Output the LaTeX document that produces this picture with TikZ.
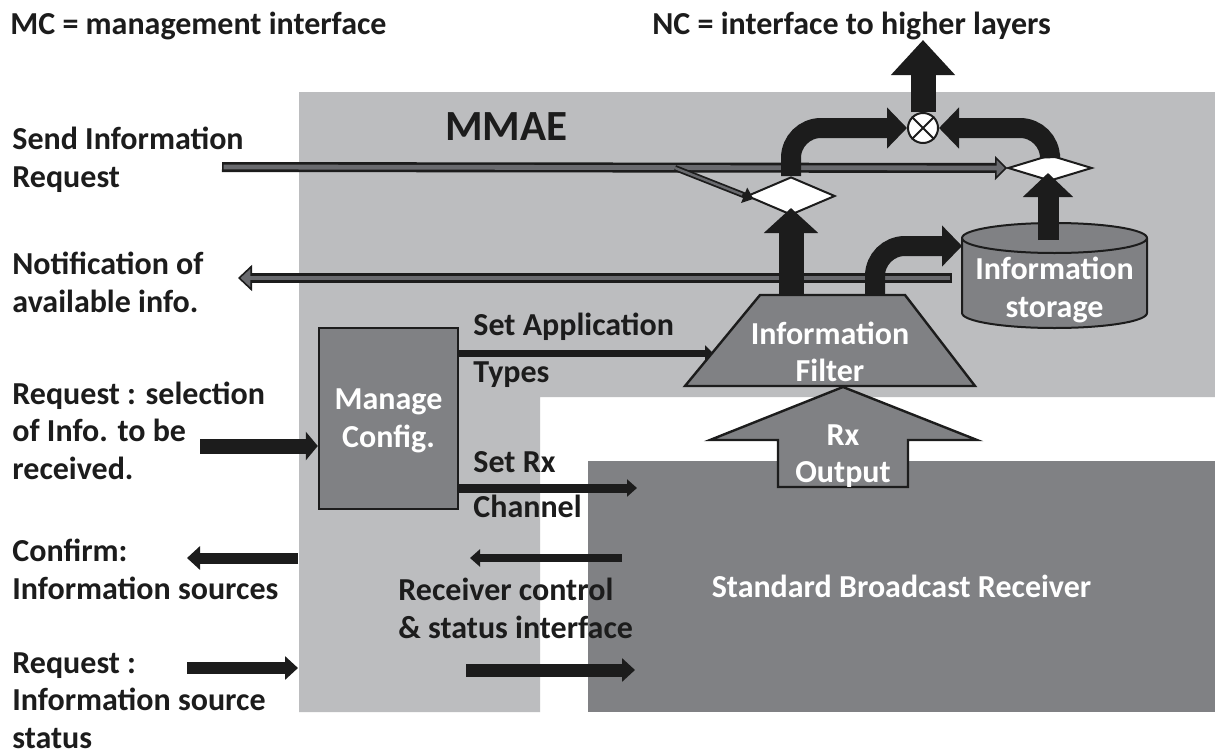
\documentclass[tikz,border=0pt]{standalone}
\usepackage{fontspec}
\setmainfont{Carlito}
\usetikzlibrary{shapes, positioning, arrows.meta}

\definecolor{mmaegray}{RGB}{188,189,191}
\definecolor{rxgray}{RGB}{128,129,132}
\definecolor{pipegray}{RGB}{105,106,110}
\definecolor{ink}{RGB}{28,28,28}

\begin{document}
\begin{tikzpicture}[
    x=0.5pt, y=-0.5pt,
    every node/.style={inner sep=0pt, font=\bfseries\fontsize{16}{18.75}\selectfont},
    lbl/.style={anchor=base west, align=left, text=ink},
    wlbl/.style={align=center, text=white},
    block/.style={draw=ink, line width=1.2pt, fill=rxgray},
    gate/.style={diamond, draw=ink, line width=1pt, fill=white},
    heavy/.style={draw=ink, line width=#1},
    pipe/.style={draw=ink, line width=5pt},
    core/.style={draw=pipegray, line width=2.4pt}
  ]
  \fill[white] (0,0) rectangle (1215,755);
  \useasboundingbox (0,0) rectangle (1215,755);

  % MMAE area and receiver
  \fill[mmaegray] (299,92) -- (1215,92) -- (1215,397) -- (540,397) -- (540,712) -- (299,712) -- cycle;
  \node[fill=rxgray, minimum width=313.5pt, minimum height=125.5pt, text=white] (recv) at (901.5,586.5) {Standard Broadcast Receiver};

  % texts (multi-line ones sit on their last baseline)
  \node[lbl] (mc) at (10,34) {MC = management interface};
  \node[lbl] (nc) at (652,34) {NC = interface to higher layers};
  \node[lbl, font=\bfseries\fontsize{21.5}{24}\selectfont] (mmae) at (445,140) {MMAE};
  \node[lbl] (sendreq) at (12,187) {Send Information\\Request};
  \node[lbl] (notif) at (12,312) {Notification of\\available info.};
  \node[lbl] (selreq) at (12,479) {Request : selection\\of Info. to be\\received.};
  \node[lbl] (confirm) at (12,599) {Confirm:\\Information sources};
  \node[lbl] (statreq) at (12,748) {Request :\\Information source\\status};
  \node[lbl] (setapp) at (473,335) {Set Application};
  \node[lbl] (types) at (473,382) {Types};
  \node[lbl] (setrx) at (473,472) {Set Rx};
  \node[lbl] (channel) at (473,517) {Channel};
  \node[lbl] (rxctl) at (398,638) {Receiver control\\\& status interface};

  % free ends
  \coordinate (sendin) at (222,167);
  \coordinate (br) at (675,168);
  \coordinate (stout) at (952,278);
  \coordinate (notout) at (238,278);
  \coordinate (selin) at (200,446);
  \coordinate (confin) at (298,558);
  \coordinate (confout) at (187,558);
  \coordinate (statin) at (187,668);
  \coordinate (statout) at (298,668);
  \coordinate (ctlin) at (622,558);
  \coordinate (ctlout) at (470,558);
  \coordinate (cmdin) at (466,670);
  \coordinate (cmdout) at (635,670);
  \coordinate (appin) at (713,353);
  \coordinate (chin) at (637,488);
  \coordinate (ncout) at (924,40);
  \coordinate (ftap) at (875,295);
  \coordinate (stin) at (962,246);
  \coordinate (sttop) at (1048,240);

  % blocks
  \node[block, wlbl, minimum width=69.5pt, minimum height=90.5pt] (cfg) at (388.5,418.5) {\\[-6pt]Manage\\Config.};
  \filldraw[block] (685,386) -- (760,295) -- (905,295) -- (975,386) -- cycle;
  \node[minimum width=72.5pt, minimum height=45.5pt] (filt) at (832.5,340.5) {};
  \node[wlbl] (filttxt) at (830,352) {Information\\Filter};
  \filldraw[block, line width=1pt] (962,238) -- (962,313)
    arc[start angle=180, end angle=360, x radius=46.25pt, y radius=7.5pt] -- (1147,238)
    arc[start angle=0, end angle=180, x radius=46.25pt, y radius=7.5pt] -- cycle;
  \draw[ink, line width=1pt] (962,238) arc[start angle=180, end angle=360, x radius=46.25pt, y radius=7.5pt];
  \node[wlbl] (store) at (1054.5,290) {Information\\storage};
  \filldraw[block] (843,387) -- (977,440) -- (908,440) -- (908,487) -- (778,487) -- (778,440) -- (710,440) -- cycle;
  \node[wlbl] (rxo) at (843,456) {Rx\\Output};
  \node[gate, minimum width=44pt, minimum height=19pt] (sel) at (791,196) {};
  \node[gate, minimum width=42pt, minimum height=13pt] (merge) at (1050,168) {};
  \node[circle, draw=ink, line width=1pt, fill=white, minimum size=15pt] (mix) at (923,128) {};
  \draw[ink, line width=1pt] (mix.north west) -- (mix.south east) (mix.north east) -- (mix.south west);

  % grey request / notification lines
  \draw[pipe, -{Triangle[length=6pt, width=12pt, fill=pipegray, line width=0.8pt]}] (sendin) -- (merge.west);
  \draw[core, shorten >=3pt, shorten <=0.8pt] (sendin) -- (merge.west);
  \draw[pipe, -{Triangle[length=7pt, width=13pt, fill=pipegray, line width=0.8pt]}] (stout) -- (notout);
  \draw[core, shorten >=3.5pt, shorten <=0.8pt] (stout) -- (notout);
  \draw[ink, line width=3pt, -{Triangle[length=5pt, width=8pt]}, shorten >=-4pt] (br) -- (sel.west);
  \draw[draw=pipegray, line width=1.2pt, shorten >=2pt] (br) -- (sel.west);

  % data path
  \draw[heavy=12.5pt, -{Triangle[length=12.5pt, width=26.5pt]}, shorten >=-4pt] (sel.south |- filt.north) -- (sel.south);
  \draw[heavy=10pt, rounded corners=15pt, -{Triangle[length=10pt, width=20pt]}] (ftap |- filt.north) |- (stin);
  \draw[heavy=10.5pt, -{Triangle[length=12pt, width=24.5pt]}, shorten >=-4.5pt] (sttop) -- (sttop |- merge.south);
  \draw[heavy=10pt, rounded corners=15pt, -{Triangle[length=10pt, width=20pt]}] (sel.north) |- (mix.west);
  \draw[heavy=10pt, rounded corners=15pt, -{Triangle[length=10pt, width=20pt]}] (merge.north) |- (mix.east);
  \draw[heavy=12.5pt, -{Triangle[length=17.5pt, width=31pt]}] (mix.north) -- (mix.north |- ncout);

  % control arrows
  \draw[heavy=3.5pt, -{Triangle[length=4pt, width=7.5pt]}] (appin -| cfg.east) -- (appin);
  \draw[heavy=4.5pt, -{Triangle[length=5pt, width=8.5pt]}] (chin -| cfg.east) -- (chin);
  \draw[heavy=7.5pt, -{Triangle[length=6pt, width=14pt]}] (selin) -- (selin -| cfg.west);
  \draw[heavy=5.5pt, -{Triangle[length=6.5pt, width=11.5pt]}] (confin) -- (confout);
  \draw[heavy=6pt, -{Triangle[length=6.5pt, width=11.5pt]}] (statin) -- (statout);
  \draw[heavy=4pt, -{Triangle[length=5pt, width=8.5pt]}] (ctlin) -- (ctlout);
  \draw[heavy=6.5pt, -{Triangle[length=6.5pt, width=11.5pt]}] (cmdin) -- (cmdout);
\end{tikzpicture}
\end{document}
